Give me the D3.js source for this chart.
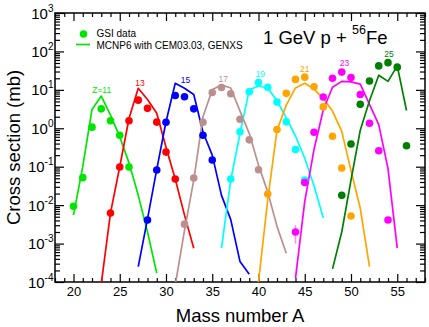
<!DOCTYPE html>
<html>
<head>
<meta charset="utf-8">
<script src="https://cdn.jsdelivr.net/npm/d3@7"></script>
<style>
  body { margin: 0; background: #fff; }
  svg { display: block; font-family: "Liberation Sans", Arial, sans-serif; }
</style>
</head>
<body>
<div id="chart"></div>
<script>
// charge numbers of the fragments
const zValues = [11, 13, 15, 17, 19, 21, 23, 25];

// GSI data: first mass number and cross sections (mb)
const gsiStartA = [20, 24, 28, 32, 37, 41, 44, 49];
const gsiXS = [
  [0.0093, 0.052, 1.07, 3.2, 1.57, 0.66, 0.098],
  [0.0062, 0.098, 1.57, 5.4, 3.3, 1.45, 0.24, 0.048],
  [0.0041, 0.082, 1.43, 7.1, 6.6, 3.2, 0.66, 0.15],
  [0.0032, 0.051, 1.43, 8.5, 11.5, 7.9, 1.72, 0.5, 0.083],
  [0.048, 0.81, 8.9, 15.5, 11.7, 4.8, 1.48, 0.28, 0.045],
  [0.0195, 0.93, 8.1, 18.7, 21.4, 12, 3.6, 0.62, 0.093, 0.0052],
  [0.002, 0.039, 0.79, 6.5, 20, 29, 21, 7.6, 1.35, 0.26, 0.0041],
  [0.018, 0.39, 4.2, 17, 42, 51, 39, 0.35]
];
// one GSI point with a visible error bar (Z=23, A=44)
const errBarA = 44;
const errBarRange = [0.001, 0.003];

// MCNP6 results: first mass number and cross sections (mb)
const mcnpStartA = [20, 23, 27, 31, 36, 40, 44, 48];
const mcnpXS = [
  [0.0055, 0.10, 3.1, 6.9, 2.2, 0.6, 0.126, 0.018, 0.002, 0.00017],
  [0.000089, 0.0063, 0.1, 1.8, 11, 5.6, 2.45, 0.32, 0.048, 0.0055, 0.00076],
  [0.00025, 0.0044, 0.085, 1.48, 14.8, 11, 7.6, 0.79, 0.2, 0.018, 0.0042, 0.00034, 0.00016],
  [0.000083, 0.0022, 0.045, 2.0, 10, 13.5, 11.2, 2.8, 0.74, 0.11, 0.022, 0.0028, 0.00056],
  [0.00076, 0.045, 0.72, 10, 12.6, 11.2, 5.2, 1.86, 0.63, 0.166, 0.032, 0.0046],
  [0.0001, 0.014, 0.89, 4, 11.2, 14.8, 10.5, 6, 2.8, 0.83, 0.079, 0.0083, 0.00025],
  [0.000126, 0.0126, 0.28, 3, 11.7, 16.6, 16.2, 14.1, 4.2, 1.25, 0.089, 0.00076],
  [0.00022, 0.002, 0.045, 0.89, 5.2, 24, 16.6, 42, 2.9]
];

// "Z=.." label anchors (mass number, cross section)
const labelA = [23.05, 27.2, 32.1, 36.2, 40.2, 45.0, 49.3, 54.1];
const labelXS = [8.1, 12.6, 14.8, 16.2, 21.4, 28.8, 41.7, 72];

const xTicks = [20, 25, 30, 35, 40, 45, 50, 55];
const yDecades = [-4, -3, -2, -1, 0, 1, 2, 3];

const colors = ["#00e600", "#ff0000", "#0000ff", "#bc8f8f", "#00ffff", "#ffa500", "#ff00ff", "#008000"];

const width = 429;
const height = 327;
const plot = { left: 55, right: 425, top: 13, bottom: 282 };

const svg = d3
  .select("#chart")
  .append("svg")
  .attr("width", width)
  .attr("height", height);

const x = d3.scaleLinear().domain([18, 58]).range([plot.left, plot.right]);
const y = d3.scaleLog().domain([1e-4, 1e3]).range([plot.bottom, plot.top]);

svg.append("clipPath").attr("id", "clip")
  .append("rect")
  .attr("x", plot.left).attr("y", plot.top)
  .attr("width", plot.right - plot.left)
  .attr("height", plot.bottom - plot.top);

// ---- ticks (inward, on all four sides)
const minorX = d3.range(18, 59).filter((v) => v % 5 !== 0);
const minorY = [];
yDecades.slice(0, -1).forEach((e) => {
  for (let k = 2; k <= 9; k++) minorY.push(k * Math.pow(10, e));
});
const majorY = yDecades.map((e) => Math.pow(10, e));

function axisGroup(axis, tx, ty) {
  const g = svg.append("g").attr("transform", `translate(${tx},${ty})`).call(axis);
  g.select(".domain").remove();
  g.selectAll("line").attr("stroke", "#000").attr("stroke-width", 1.2);
  return g;
}

const bottomMajor = axisGroup(
  d3.axisBottom(x).tickValues(xTicks).tickSize(-8).tickPadding(5).tickFormat(d3.format("d")),
  0, plot.bottom
);
bottomMajor.selectAll("text").attr("font-size", 13).attr("fill", "#000")
  .attr("font-family", '"Liberation Sans", Arial, sans-serif');
axisGroup(d3.axisBottom(x).tickValues(minorX).tickSize(-4).tickFormat(""), 0, plot.bottom);
axisGroup(d3.axisTop(x).tickValues(xTicks).tickSize(-8).tickFormat(""), 0, plot.top);
axisGroup(d3.axisTop(x).tickValues(minorX).tickSize(-4).tickFormat(""), 0, plot.top);

axisGroup(d3.axisLeft(y).tickValues(majorY).tickSize(-9).tickFormat(""), plot.left, 0);
axisGroup(d3.axisLeft(y).tickValues(minorY).tickSize(-5).tickFormat(""), plot.left, 0);
axisGroup(d3.axisRight(y).tickValues(majorY).tickSize(-9).tickFormat(""), plot.right, 0);
axisGroup(d3.axisRight(y).tickValues(minorY).tickSize(-5).tickFormat(""), plot.right, 0);

// y labels as 10^n
const yLab = svg.append("g")
  .selectAll("text")
  .data(yDecades)
  .join("text")
  .attr("x", 53.5)
  .attr("y", (d) => y(Math.pow(10, d)) + 5.5)
  .attr("text-anchor", "end")
  .attr("font-size", 15)
  .attr("fill", "#000");
yLab.append("tspan").text("10");
yLab.append("tspan").attr("font-size", 10).attr("dy", -7).text((d) => d);

// frame
svg.append("rect")
  .attr("x", plot.left).attr("y", plot.top)
  .attr("width", plot.right - plot.left)
  .attr("height", plot.bottom - plot.top)
  .attr("fill", "none")
  .attr("stroke", "#000")
  .attr("stroke-width", 1.5);

// ---- MCNP6 lines
const line = d3.line().x((d) => x(d.a)).y((d) => y(d.v));
const content = svg.append("g").attr("clip-path", "url(#clip)");

zValues.forEach((z, i) => {
  const pts = mcnpXS[i].map((v, j) => ({ a: mcnpStartA[i] + j, v: v }));
  content.append("path")
    .datum(pts)
    .attr("d", line)
    .attr("fill", "none")
    .attr("stroke", colors[i])
    .attr("stroke-width", 1.7)
    .attr("stroke-linejoin", "round");
});

// error bar
content.append("line")
  .attr("x1", x(errBarA)).attr("x2", x(errBarA))
  .attr("y1", y(errBarRange[0])).attr("y2", y(errBarRange[1]))
  .attr("stroke", "#ff88ff")
  .attr("stroke-width", 1.5);

// ---- GSI points
zValues.forEach((z, i) => {
  const pts = gsiXS[i].map((v, j) => ({ a: gsiStartA[i] + j, v: v }));
  content.append("g")
    .selectAll("circle")
    .data(pts)
    .join("circle")
    .attr("cx", (d) => x(d.a))
    .attr("cy", (d) => y(d.v))
    .attr("r", 3.8)
    .attr("fill", colors[i]);
});

// ---- Z labels
svg.append("g")
  .selectAll("text")
  .data(zValues)
  .join("text")
  .attr("x", (d, i) => x(labelA[i]))
  .attr("y", (d, i) => y(labelXS[i]))
  .attr("text-anchor", "middle")
  .attr("font-size", 8.5)
  .attr("fill", (d, i) => colors[i])
  .text((d, i) => (i === 0 ? "Z=" + d : d));

// ---- legend
svg.append("circle").attr("cx", 83.5).attr("cy", 34).attr("r", 3.8).attr("fill", colors[0]);
svg.append("text").attr("x", 96.5).attr("y", 37.2).attr("font-size", 10).text("GSI data");
svg.append("line").attr("x1", 76).attr("x2", 90).attr("y1", 44.5).attr("y2", 44.5)
  .attr("stroke", colors[0]).attr("stroke-width", 1.7);
svg.append("text").attr("x", 96.5).attr("y", 48.6).attr("font-size", 10)
  .text("MCNP6 with CEM03.03, GENXS");

// ---- title
const title = svg.append("text").attr("x", 263).attr("y", 43.6).attr("font-size", 18.5);
title.append("tspan").text("1 GeV p + ");
title.append("tspan").attr("font-size", 12.5).attr("dy", -10).text("56");
title.append("tspan").attr("dy", 10).text("Fe");

// ---- axis titles
svg.append("text")
  .attr("x", (plot.left + plot.right) / 2)
  .attr("y", 321.5)
  .attr("text-anchor", "middle")
  .attr("font-size", 18.5)
  .text("Mass number A");

svg.append("text")
  .attr("transform", `translate(20,${(plot.top + plot.bottom) / 2}) rotate(-90)`)
  .attr("text-anchor", "middle")
  .attr("font-size", 18.5)
  .text("Cross section (mb)");
</script>
</body>
</html>
